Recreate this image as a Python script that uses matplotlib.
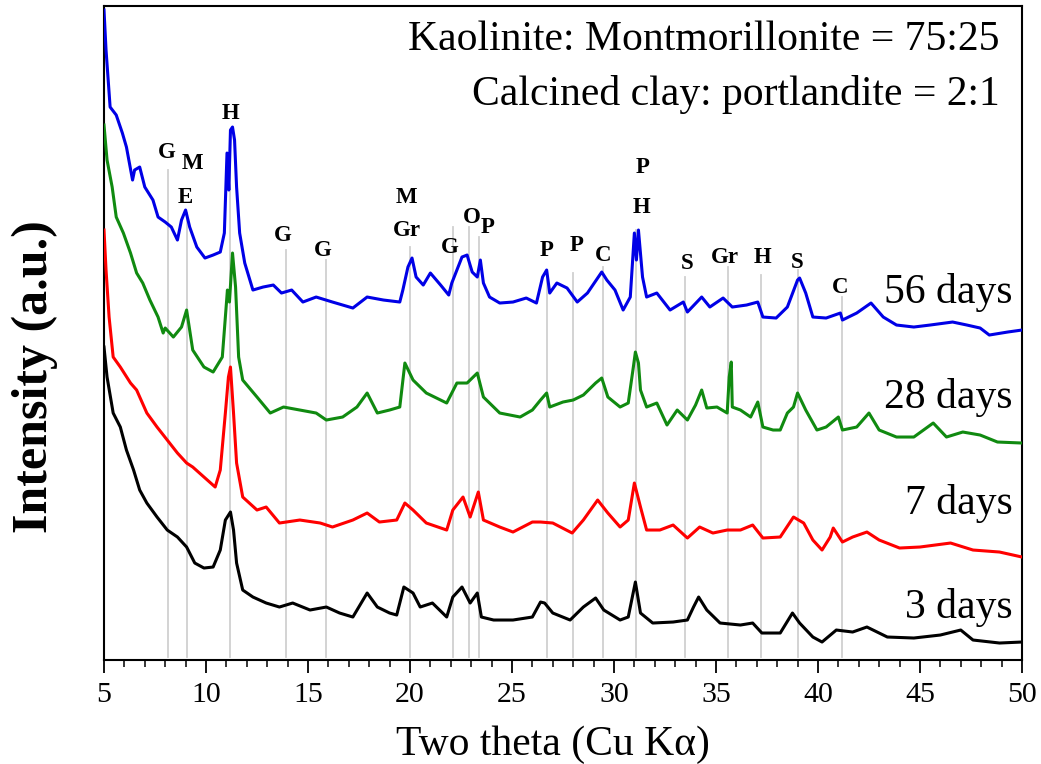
import matplotlib
matplotlib.use('Agg')
import matplotlib.pyplot as plt
from matplotlib.ticker import MultipleLocator

plt.rcParams['font.family'] = ['Liberation Serif', 'DejaVu Serif']

# 2-theta / intensity (a.u., already stacked)
tt_56 = [5.0, 5.1, 5.3, 5.6, 5.9, 6.1, 6.4, 6.5, 6.75, 7.0, 7.4, 7.65, 8.0, 8.3, 8.6, 8.8, 9.0, 9.2,
         9.55, 9.95, 10.35, 10.7, 10.9, 11.03, 11.12, 11.2, 11.3, 11.4, 11.5, 11.65, 11.9, 12.3, 12.8,
         13.3, 13.7, 14.2, 14.75, 15.4, 16.2, 17.2, 17.9, 18.7, 19.5, 19.65, 19.9, 20.1, 20.3, 20.65,
         21.0, 21.5, 21.9, 22.05, 22.55, 22.8, 23.05, 23.3, 23.45, 23.6, 23.9, 24.4, 25.05, 25.7, 26.2,
         26.5, 26.7, 26.85, 27.2, 27.7, 28.2, 28.7, 29.2, 29.4, 29.65, 30.05, 30.45, 30.8, 31.0, 31.1,
         31.2, 31.4, 31.6, 32.1, 32.75, 33.4, 33.6, 34.3, 34.7, 35.35, 35.8, 36.5, 37.05, 37.3, 37.95,
         38.5, 39.0, 39.1, 39.4, 39.75, 40.4, 41.1, 41.2, 41.9, 42.6, 43.2, 43.85, 44.7, 45.5, 46.6,
         47.3, 47.95, 48.4, 49.3, 50.0]
i_56 = [647, 607, 550, 542, 524, 510, 477, 487, 490, 470, 457, 440, 435, 430, 417, 437, 447, 430,
        410, 399, 402, 405, 424, 504, 467, 527, 530, 517, 470, 424, 394, 367, 370,
        372, 364, 367, 355, 360, 355, 349, 360, 357, 355, 367, 390, 399, 380, 372,
        384, 372, 362, 374, 400, 402, 385, 380, 397, 374, 360, 354, 355, 359, 354,
        380, 387, 364, 374, 369, 355, 364, 379, 385, 377, 367, 347, 360, 424, 397,
        427, 380, 360, 364, 347, 355, 345, 360, 350, 359, 350, 352, 355, 340, 339,
        350, 377, 379, 364, 340, 339, 344, 337, 344, 354, 340, 332, 330, 332, 335,
        332, 329, 322, 325, 327]

tt_28 = [5.0, 5.15, 5.4, 5.6, 5.95, 6.3, 6.6, 6.9, 7.25, 7.65, 7.9, 8.0, 8.4, 8.8, 9.05, 9.35, 9.9,
         10.35, 10.8, 10.95, 11.05, 11.15, 11.3, 11.45, 11.6, 11.8, 12.5, 13.15, 13.8, 14.6, 15.4,
         15.9, 16.7, 17.4, 17.9, 18.4, 19.0, 19.5, 19.75, 20.15, 20.8, 21.8, 22.3, 22.8, 23.3, 23.6,
         24.4, 25.4, 26.0, 26.4, 26.7, 26.85, 27.5, 28.0, 28.5, 29.1, 29.4, 29.7, 30.3, 30.7, 30.95,
         31.05, 31.2, 31.3, 31.6, 32.1, 32.6, 33.1, 33.6, 34.0, 34.3, 34.55, 35.05, 35.55, 35.65,
         35.75, 35.8, 36.2, 36.7, 37.05, 37.3, 37.8, 38.15, 38.5, 38.8, 39.0, 39.4, 39.95, 40.4, 41.0,
         41.2, 41.9, 42.5, 43.0, 43.85, 44.7, 45.65, 46.3, 47.1, 47.95, 48.8, 50.0]
i_28 = [532, 497, 470, 440, 424, 404, 384, 374, 357, 340, 324, 329, 320, 330, 347, 307, 290,
        285, 300, 340, 367, 355, 404, 370, 300, 277, 260, 244, 250, 247, 244,
        237, 240, 250, 264, 244, 247, 250, 294, 277, 264, 254, 274, 274, 284, 260,
        244, 240, 247, 257, 264, 250, 255, 257, 262, 274, 279, 260, 250, 254, 290,
        305, 294, 267, 250, 254, 232, 247, 237, 252, 267, 249, 250, 244, 280,
        295, 250, 247, 240, 255, 230, 227, 227, 244, 250, 264, 247, 227, 230, 240,
        227, 230, 244, 227, 220, 220, 234, 220, 225, 222, 215, 214]

tt_7 = [5.0, 5.1, 5.25, 5.45, 5.8, 6.3, 6.6, 7.1, 7.6, 8.1, 8.6, 9.05, 9.35, 9.9, 10.45, 10.7, 10.95,
        11.1, 11.2, 11.35, 11.5, 11.8, 12.5, 12.95, 13.6, 14.6, 15.6, 16.2, 17.2, 17.9, 18.5, 19.35,
        19.75, 20.15, 20.8, 21.8, 22.1, 22.6, 22.95, 23.35, 23.6, 24.4, 25.05, 26.0, 26.4, 27.0,
        27.95, 28.5, 29.2, 29.7, 30.3, 30.7, 31.0, 31.3, 31.6, 32.25, 32.9, 33.6, 34.2, 34.85, 35.55,
        36.2, 36.8, 37.3, 38.15, 38.8, 39.3, 39.75, 40.2, 40.6, 40.75, 41.2, 41.7, 42.4, 43.0, 44.0,
        45.0, 46.5, 47.6, 48.9, 50.0]
i_7 = [427, 387, 340, 300, 290, 274, 267, 244, 230, 217, 204, 194, 190, 180, 170, 187, 244,
       280, 290, 244, 194, 160, 147, 150, 134, 137, 134, 130, 137, 144, 135, 137,
       154, 147, 134, 127, 147, 160, 140, 165, 137, 130, 125, 135, 135, 134,
       124, 137, 157, 144, 130, 137, 174, 150, 127, 127, 132, 119, 130, 124, 127,
       127, 132, 119, 120, 140, 134, 117, 107, 120, 129, 115, 120, 125, 117, 109,
       110, 114, 107, 105, 100]

tt_3 = [5.0, 5.15, 5.45, 5.8, 6.1, 6.45, 6.75, 7.1, 7.6, 8.1, 8.6, 9.05, 9.45, 9.9, 10.35, 10.7,
        10.95, 11.2, 11.35, 11.5, 11.8, 12.3, 12.95, 13.6, 14.25, 15.1, 15.9, 16.55, 17.2, 17.9,
        18.4, 19.0, 19.35, 19.7, 20.15, 20.5, 21.1, 21.8, 22.1, 22.55, 22.95, 23.3, 23.5, 24.1,
        25.05, 26.0, 26.4, 26.6, 27.0, 27.85, 28.5, 29.1, 29.5, 30.3, 30.7, 31.05, 31.3, 31.9,
        32.9, 33.6, 33.9, 34.15, 34.55, 35.2, 36.2, 36.8, 37.25, 38.15, 38.75, 39.1, 39.75, 40.2,
        40.9, 41.7, 42.4, 43.4, 44.7, 46.0, 47.0, 47.6, 48.9, 50.0]
i_3 = [310, 280, 244, 230, 207, 187, 167, 154, 140, 127, 120, 110, 94, 89, 90, 107,
       137, 145, 127, 94, 67, 60, 54, 50, 54, 47, 50, 44, 40, 64,
       50, 44, 42, 70, 64, 50, 54, 40, 60, 70, 54, 64, 40, 37,
       37, 40, 55, 54, 44, 37, 50, 59, 47, 37, 40, 75, 44, 34,
       35, 37, 50, 60, 47, 34, 32, 34, 24, 24, 44, 34, 20, 15,
       27, 25, 30, 20, 19, 22, 27, 17, 14, 15]

series = [
    (tt_56, i_56, '#0000E6', '56 days', 365),
    (tt_28, i_28, '#108A10', '28 days', 260),
    (tt_7, i_7, '#FF0000', '7 days', 154),
    (tt_3, i_3, '#000000', '3 days', 50),
]

# phase marker lines: position, top of line
ref_pos = [8.15, 9.05, 11.2, 13.9, 15.9, 20.0, 22.1, 22.9, 23.4, 26.7, 28.0, 29.45, 31.1,
           33.5, 35.6, 37.2, 39.0, 41.2]
ref_top = [487, 444, 507, 407, 397, 410, 430, 430, 420, 387, 384, 390, 427,
           380, 390, 382, 387, 360]

# phase letters: text, 2-theta, height
lab_txt = ['G', 'M', 'E', 'H', 'G', 'G', 'M', 'Gr', 'G', 'O', 'P', 'P', 'P', 'C', 'P', 'H',
           'S', 'Gr', 'H', 'S', 'C']
lab_x = [8.09, 9.36, 8.97, 11.18, 13.77, 15.74, 19.85, 19.85, 21.96, 23.04, 23.82, 26.72,
         28.19, 29.46, 31.42, 31.37, 33.58, 35.44, 37.3, 38.97, 41.08]
lab_y = [505, 494, 460, 544, 422, 407, 460, 427, 410, 440, 430, 407,
         412, 402, 490, 450, 394, 400, 400, 395, 370]

fig = plt.figure(figsize=(10.41, 7.64), dpi=100)
ax = fig.add_axes([0.0999, 0.1361, 0.8818, 0.856])

for p, top in zip(ref_pos, ref_top):
    ax.plot([p, p], [0, top], color='#d0d0d0', lw=1.3, zorder=1)

for tt, inten, col, name, ylab in series:
    ax.plot(tt, inten, color=col, lw=2.2, zorder=3)
    ax.text(49.55, ylab, name, ha='right', va='center', fontsize=30, zorder=4)

for t, x, y in zip(lab_txt, lab_x, lab_y):
    ax.text(x, y, t, ha='center', va='center', fontsize=16.5, fontweight='bold', zorder=4)

ax.text(0.976, 0.948, 'Kaolinite: Montmorillonite = 75:25', transform=ax.transAxes,
        ha='right', va='center', fontsize=30)
ax.text(0.976, 0.865, 'Calcined clay: portlandite = 2:1', transform=ax.transAxes,
        ha='right', va='center', fontsize=30)

ax.set_xlim(5, 50)
ax.set_ylim(-3, 651)
ax.set_yticks([])
ax.xaxis.set_major_locator(MultipleLocator(5))
ax.xaxis.set_minor_locator(MultipleLocator(1))
ax.tick_params(axis='x', which='major', direction='out', length=9, width=1.3, labelsize=21.5, pad=7)
ax.tick_params(axis='x', which='minor', direction='out', length=5, width=1.1)
for s in ax.spines.values():
    s.set_linewidth(1.5)

ax.set_xlabel('Two theta (Cu K\u03b1)', fontsize=30)
ax.xaxis.set_label_coords(0.489, -0.10)
ax.set_ylabel('Intensity (a.u.)', fontsize=36, fontweight='bold')
ax.yaxis.set_label_coords(-0.05, 0.434)

fig.savefig('out.png', dpi=100)
